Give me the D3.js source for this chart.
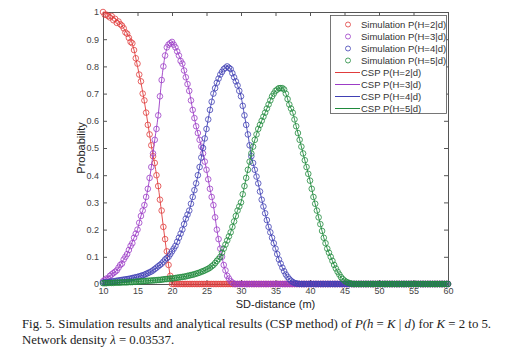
<!DOCTYPE html>
<html>
<head>
<meta charset="utf-8">
<script src="https://cdn.jsdelivr.net/npm/d3@7"></script>
<style>
  body { margin: 0; background: #fff; }
  svg { display: block; }
  .tick text { font-family: "Liberation Sans", Arial, sans-serif; font-size: 9px; fill: #444; }
</style>
</head>
<body>
<script>
let zeros = (n) => {
    let arr = []
    for (var i = 0; i < n; i++) arr.push(0);
    return arr;
}

// SD-distance grids (m): CSP curve every 0.5, simulation every 0.25
var distances = d3.range(10, 60.0001, 0.5);
var simDistances = d3.range(10, 60.0001, 0.25);

var seriesNames = ["H=2", "H=3", "H=4", "H=5"];

// CSP (analytical) curves
var cspH2 = [1.00, 0.995, 0.99, 0.98, 0.97, 0.96, 0.94, 0.92, 0.90, 0.86,
    0.80, 0.74, 0.67, 0.59, 0.51, 0.44, 0.36, 0.26, 0.16, 0.07, 0,
    ...zeros(80)];

var cspH3 = [0.01, 0.02, 0.03, 0.04, 0.05, 0.07, 0.09, 0.11, 0.14, 0.17,
    0.20, 0.25, 0.29, 0.35, 0.43, 0.53, 0.62, 0.75, 0.84, 0.88,
    0.89, 0.87, 0.84, 0.81, 0.76, 0.71, 0.64, 0.58, 0.53, 0.48,
    0.42, 0.35, 0.29, 0.20, 0.13, 0.07, 0.03, 0.01, 0,
    ...zeros(62)];

var cspH4 = [0.005, 0.006, 0.008, 0.01, 0.012, 0.014, 0.016, 0.018, 0.02, 0.023,
    0.026, 0.03, 0.034, 0.04, 0.046, 0.055, 0.065, 0.075, 0.09, 0.10,
    0.12, 0.14, 0.17, 0.20, 0.24, 0.27, 0.32, 0.37, 0.43, 0.50,
    0.57, 0.64, 0.70, 0.74, 0.77, 0.79, 0.80, 0.79, 0.76, 0.73,
    0.69, 0.62, 0.55, 0.47, 0.42, 0.37, 0.31, 0.26, 0.21, 0.17,
    0.13, 0.09, 0.06, 0.035, 0.018, 0.007, 0.002, 0,
    ...zeros(43)];

var cspH5 = [0.003, 0.003, 0.004, 0.004, 0.005, 0.005, 0.006, 0.006, 0.007, 0.008,
    0.009, 0.01, 0.011, 0.012, 0.013, 0.014, 0.015, 0.016, 0.018, 0.019,
    0.02, 0.022, 0.024, 0.026, 0.028, 0.031, 0.034, 0.038, 0.042, 0.047,
    0.053, 0.06, 0.07, 0.085, 0.10, 0.13, 0.16, 0.19, 0.23, 0.27,
    0.30, 0.36, 0.42, 0.48, 0.53, 0.57, 0.60, 0.63, 0.66, 0.69,
    0.71, 0.72, 0.72, 0.70, 0.66, 0.63, 0.58, 0.53, 0.48, 0.43,
    0.38, 0.32, 0.27, 0.22, 0.17, 0.13, 0.10, 0.07, 0.045, 0.025,
    0.012, 0.005, 0.001,
    ...zeros(28)];

// simulation points
var simH2 = [1.00, 0.99, 0.99, 0.985, 0.98, 0.985, 0.97, 0.975,
    0.96, 0.965, 0.955, 0.95, 0.94, 0.925, 0.92, 0.905,
    0.89, 0.885, 0.86, 0.83, 0.81, 0.77, 0.745, 0.70,
    0.675, 0.63, 0.585, 0.55, 0.51, 0.47, 0.445, 0.40,
    0.36, 0.31, 0.27, 0.21, 0.165, 0.12, 0.07, 0.03, 0,
    ...zeros(160)];

var simH3 = [0.01, 0.015, 0.02, 0.02, 0.03, 0.035, 0.04, 0.045,
    0.05, 0.06, 0.07, 0.075, 0.09, 0.10, 0.11, 0.125,
    0.14, 0.15, 0.17, 0.185, 0.20, 0.225, 0.25, 0.27,
    0.29, 0.32, 0.35, 0.39, 0.43, 0.48, 0.53, 0.57,
    0.62, 0.69, 0.75, 0.80, 0.84, 0.87, 0.88, 0.885,
    0.89, 0.88, 0.87, 0.855, 0.84, 0.82, 0.81, 0.785,
    0.76, 0.735, 0.71, 0.675, 0.64, 0.61, 0.58, 0.555,
    0.53, 0.505, 0.48, 0.45, 0.42, 0.385, 0.35, 0.32,
    0.29, 0.245, 0.20, 0.165, 0.13, 0.10, 0.07, 0.05,
    0.03, 0.02, 0.01, 0.005, 0,
    ...zeros(124)];

var simH4 = [0.005, 0.006, 0.006, 0.007, 0.008, 0.009, 0.01, 0.011,
    0.012, 0.013, 0.014, 0.015, 0.016, 0.017, 0.018, 0.019,
    0.02, 0.022, 0.023, 0.025, 0.026, 0.028, 0.03, 0.032,
    0.034, 0.037, 0.04, 0.043, 0.046, 0.05, 0.055, 0.06,
    0.065, 0.07, 0.075, 0.082, 0.09, 0.095, 0.10, 0.11,
    0.12, 0.13, 0.14, 0.155, 0.17, 0.185, 0.20, 0.22,
    0.24, 0.255, 0.27, 0.295, 0.32, 0.345, 0.37, 0.40,
    0.43, 0.465, 0.50, 0.535, 0.57, 0.605, 0.64, 0.67,
    0.70, 0.72, 0.74, 0.755, 0.77, 0.78, 0.79, 0.795,
    0.80, 0.795, 0.79, 0.775, 0.76, 0.745, 0.73, 0.71,
    0.69, 0.655, 0.62, 0.585, 0.55, 0.51, 0.47, 0.445,
    0.42, 0.395, 0.37, 0.34, 0.31, 0.285, 0.26, 0.235,
    0.21, 0.19, 0.17, 0.15, 0.13, 0.11, 0.09, 0.075,
    0.06, 0.047, 0.035, 0.026, 0.018, 0.012, 0.007, 0.004,
    0.002, 0.001, 0,
    ...zeros(86)];

var simH5 = [0.003, 0.003, 0.003, 0.004, 0.004, 0.004, 0.004, 0.005,
    0.005, 0.005, 0.005, 0.006, 0.006, 0.006, 0.006, 0.007,
    0.007, 0.007, 0.008, 0.008, 0.009, 0.009, 0.01, 0.01,
    0.011, 0.011, 0.012, 0.012, 0.013, 0.013, 0.014, 0.014,
    0.015, 0.015, 0.016, 0.017, 0.018, 0.018, 0.019, 0.02,
    0.02, 0.021, 0.022, 0.023, 0.024, 0.025, 0.026, 0.027,
    0.028, 0.03, 0.031, 0.033, 0.034, 0.036, 0.038, 0.04,
    0.042, 0.045, 0.047, 0.05, 0.053, 0.056, 0.06, 0.065,
    0.07, 0.077, 0.085, 0.092, 0.10, 0.115, 0.13, 0.145,
    0.16, 0.175, 0.19, 0.21, 0.23, 0.25, 0.27, 0.285,
    0.30, 0.33, 0.36, 0.39, 0.42, 0.45, 0.48, 0.505,
    0.53, 0.55, 0.57, 0.585, 0.60, 0.615, 0.63, 0.645,
    0.66, 0.675, 0.69, 0.70, 0.71, 0.715, 0.72, 0.72,
    0.72, 0.715, 0.70, 0.68, 0.66, 0.645, 0.63, 0.605,
    0.58, 0.555, 0.53, 0.505, 0.48, 0.455, 0.43, 0.405,
    0.38, 0.35, 0.32, 0.295, 0.27, 0.245, 0.22, 0.195,
    0.17, 0.15, 0.13, 0.115, 0.10, 0.085, 0.07, 0.057,
    0.045, 0.035, 0.025, 0.018, 0.012, 0.008, 0.005, 0.003,
    0.001,
    ...zeros(56)];

var xTicks = [10, 15, 20, 25, 30, 35, 40, 45, 50, 55, 60];
var yTicks = [0, 0.1, 0.2, 0.3, 0.4, 0.5, 0.6, 0.7, 0.8, 0.9, 1];

var colors = ["#e03c3c", "#9c3cc6", "#4040b4", "#1f8a3c"];
var cspSeries = [cspH2, cspH3, cspH4, cspH5];
var simSeries = [simH2, simH3, simH4, simH5];

var width = 516, height = 359;
var plotLeft = 103, plotRight = 448, plotTop = 12, plotBottom = 284;

var x = d3.scaleLinear().domain([10, 60]).range([plotLeft, plotRight]);
var y = d3.scaleLinear().domain([0, 1]).range([plotBottom, plotTop]);

var svg = d3.select("body").append("svg")
    .attr("width", width)
    .attr("height", height);

// axes, MATLAB style box with inward ticks
var axisColor = "#555";
svg.append("g").attr("transform", "translate(0," + plotBottom + ")")
    .call(d3.axisBottom(x).tickValues(xTicks).tickSizeInner(-4).tickSizeOuter(0).tickPadding(4));
svg.append("g").attr("transform", "translate(0," + plotTop + ")")
    .call(d3.axisTop(x).tickValues(xTicks).tickSizeInner(-4).tickSizeOuter(0).tickFormat(""));
svg.append("g").attr("transform", "translate(" + plotLeft + ",0)")
    .call(d3.axisLeft(y).tickValues(yTicks).tickSizeInner(-4).tickSizeOuter(0).tickPadding(4).tickFormat(d3.format("~g")));
svg.append("g").attr("transform", "translate(" + plotRight + ",0)")
    .call(d3.axisRight(y).tickValues(yTicks).tickSizeInner(-4).tickSizeOuter(0).tickFormat(""));
svg.selectAll(".domain, .tick line").attr("stroke", axisColor);

var line = d3.line()
    .x((d, i) => x(distances[i]))
    .y(d => y(d))
    .curve(d3.curveMonotoneX);

simSeries.forEach((vals, k) => {
    var g = svg.append("g");
    g.selectAll("circle")
        .data(vals)
        .enter()
        .append("circle")
        .attr("cx", (d, i) => x(simDistances[i]))
        .attr("cy", d => y(d))
        .attr("r", 2.8)
        .attr("fill", "none")
        .attr("stroke", colors[k])
        .attr("stroke-width", 0.8);
    g.append("path")
        .datum(cspSeries[k])
        .attr("d", line)
        .attr("fill", "none")
        .attr("stroke", colors[k])
        .attr("stroke-width", 0.9);
});

// axis titles
svg.append("text")
    .attr("x", (plotLeft + plotRight) / 2).attr("y", 308)
    .attr("text-anchor", "middle")
    .style("font-family", "Liberation Sans, Arial, sans-serif")
    .style("font-size", "11px").attr("fill", "#222")
    .text("SD-distance (m)");
svg.append("text")
    .attr("transform", "translate(85," + (plotTop + plotBottom) / 2 + ") rotate(-90)")
    .attr("text-anchor", "middle")
    .style("font-family", "Liberation Sans, Arial, sans-serif")
    .style("font-size", "11px").attr("fill", "#222")
    .text("Probability");

// legend
var legend = svg.append("g");
legend.append("rect")
    .attr("x", 330.5).attr("y", 15.5).attr("width", 116).attr("height", 98)
    .attr("fill", "#fff").attr("stroke", "#555").attr("stroke-width", 0.8);
var rowY = (i) => Math.round(24 + i * 11.93) + 0.5;
seriesNames.forEach((name, k) => {
    legend.append("circle")
        .attr("cx", 348).attr("cy", rowY(k)).attr("r", 2.5)
        .attr("fill", "none").attr("stroke", colors[k]).attr("stroke-width", 0.8);
    legend.append("text")
        .attr("x", 361).attr("y", rowY(k) + 3.5)
        .style("font-family", "Liberation Sans, Arial, sans-serif")
        .style("font-size", "9.5px").attr("fill", "#333")
        .text("Simulation P(" + name + "|d)");
});
seriesNames.forEach((name, k) => {
    legend.append("line")
        .attr("x1", 335).attr("x2", 360)
        .attr("y1", rowY(k + 4)).attr("y2", rowY(k + 4))
        .attr("stroke", colors[k]).attr("stroke-width", 1);
    legend.append("text")
        .attr("x", 361).attr("y", rowY(k + 4) + 3.5)
        .style("font-family", "Liberation Sans, Arial, sans-serif")
        .style("font-size", "9.5px").attr("fill", "#333")
        .text("CSP P(" + name + "|d)");
});

// caption
var cap = svg.append("text")
    .attr("x", 22).attr("y", 328)
    .style("font-family", "Liberation Serif, serif")
    .style("font-size", "12.8px").attr("fill", "#222");
cap.append("tspan").text("Fig. 5. Simulation results and analytical results (CSP method) of ");
cap.append("tspan").style("font-style", "italic").text("P(h");
cap.append("tspan").text(" = ");
cap.append("tspan").style("font-style", "italic").text("K");
cap.append("tspan").text(" | ");
cap.append("tspan").style("font-style", "italic").text("d");
cap.append("tspan").text(") for ");
cap.append("tspan").style("font-style", "italic").text("K");
cap.append("tspan").text(" = 2 to 5.");

var cap2 = svg.append("text")
    .attr("x", 22).attr("y", 344)
    .style("font-family", "Liberation Serif, serif")
    .style("font-size", "12.8px").attr("fill", "#222");
cap2.append("tspan").text("Network density ");
cap2.append("tspan").style("font-style", "italic").text("λ");
cap2.append("tspan").text(" = 0.03537.");
</script>
</body>
</html>
